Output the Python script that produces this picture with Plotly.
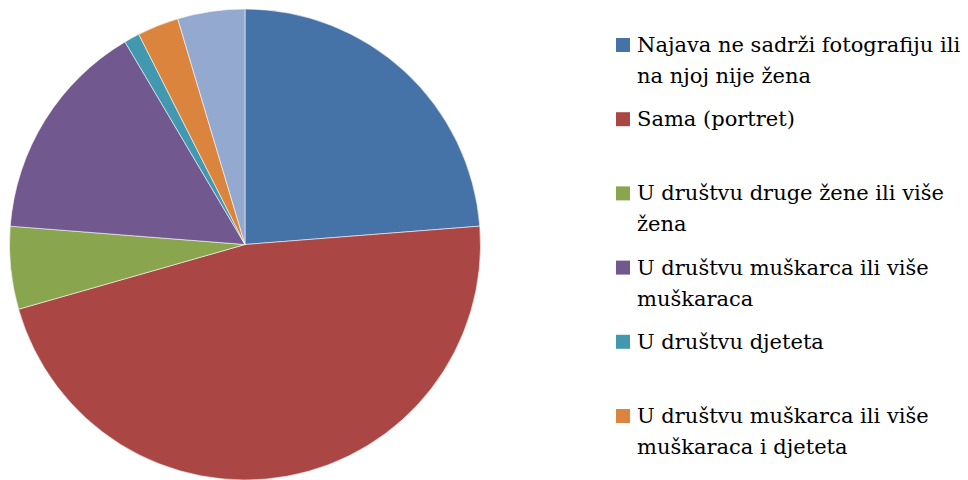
import plotly.graph_objects as go

# slice data (counts), clockwise from 12 o'clock
labels = [
    "Najava ne sadrži fotografiju ili na njoj nije žena",
    "Sama (portret)",
    "U društvu druge žene ili više žena",
    "U društvu muškarca ili više muškaraca",
    "U društvu djeteta",
    "U društvu muškarca ili više muškaraca i djeteta",
    "Ostalo",
]
values = [67, 132, 16, 43, 3, 8, 13]
colors = ["#4572A7", "#AA4643", "#89A54E", "#71588F", "#4198AF", "#DB843D", "#93A9CF"]

# legend text as it wraps in the picture (last entry falls below the canvas)
legend_lines = [
    ["Najava ne sadrži fotografiju ili", "na njoj nije žena"],
    ["Sama (portret)"],
    ["U društvu druge žene ili više", "žena"],
    ["U društvu muškarca ili više", "muškaraca"],
    ["U društvu djeteta"],
    ["U društvu muškarca ili više", "muškaraca i djeteta"],
]

# page body has an 8px margin, so the figure is 8px smaller and everything shifts by 8
OFF = 8
W, H = 968 - OFF, 480 - OFF
FONT = "DejaVu Serif"

fig = go.Figure(go.Pie(
    labels=labels,
    values=values,
    sort=False,
    direction="clockwise",
    rotation=0,
    textinfo="none",
    marker=dict(colors=colors, line=dict(color="rgba(255,255,255,0.7)", width=0.8)),
    domain=dict(x=[(9.5 - OFF) / W, (480.5 - OFF) / W], y=[0, (H - 1) / H]),
    showlegend=False,
))

# hand-built legend so the squares sit on the first text line like Excel does
shapes = []
annotations = []
top = 45 - OFF
step = 74.2
line_gap = 31
for i, lines in enumerate(legend_lines):
    cy = top + i * step
    shapes.append(dict(
        type="rect", xref="paper", yref="paper",
        x0=(616 - OFF) / W, x1=(630 - OFF) / W, y0=1 - (cy - 7) / H, y1=1 - (cy + 7) / H,
        fillcolor=colors[i], line=dict(width=0),
    ))
    for j, txt in enumerate(lines):
        annotations.append(dict(
            text=txt, xref="paper", yref="paper",
            x=(635 - OFF) / W, y=1 - (cy + j * line_gap) / H,
            xanchor="left", yanchor="middle", showarrow=False,
            font=dict(family=FONT, size=21, color="#000000"),
        ))

fig.update_layout(
    width=W, height=H,
    margin=dict(l=0, r=0, t=0, b=0),
    paper_bgcolor="white", plot_bgcolor="white",
    font=dict(family=FONT),
    shapes=shapes,
    annotations=annotations,
)

fig.write_html("out.html")
